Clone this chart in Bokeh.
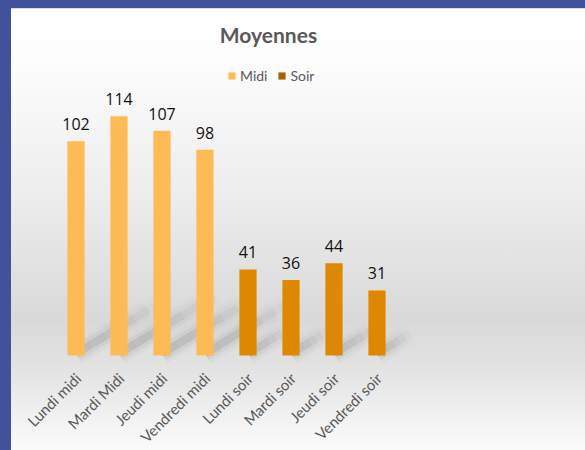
import math
from bokeh.plotting import figure
from bokeh.models import (ColumnDataSource, LabelSet, Label, Legend, LegendItem, Range1d)
from bokeh.core.properties import value
from bokeh.embed import file_html
from bokeh.resources import INLINE

# ---- data ----
categories = ["Lundi midi", "Mardi Midi", "Jeudi midi", "Vendredi midi",
              "Lundi soir", "Mardi soir", "Jeudi soir", "Vendredi soir"]
midi_cats = ["Lundi midi", "Mardi Midi", "Jeudi midi", "Vendredi midi"]
midi_vals = [102, 114, 107, 98]
soir_cats = ["Lundi soir", "Mardi soir", "Jeudi soir", "Vendredi soir"]
soir_vals = [41, 36, 44, 31]
series = ["Midi", "Soir"]
title_text = "Moyennes"

# ---- styles ----
MIDI_COLOR = "#FDBB55"
SOIR_COLOR = "#DD8800"
SOIR_LEGEND = "#A66500"
GREY = "#595959"

W, H = 585, 450
PLOT_L, PLOT_R = 54, 398   # page x span of the category slots
BL, BT = 11, 17
BR = 0
BASE = 355                 # page y of the bar baseline
YMAX = 161
n = len(categories)
px_per_cat = (PLOT_R - PLOT_L) / n
px_per_unit = (BASE - BT) / YMAX
YMIN = -(H - BASE) / px_per_unit
XMIN = -0.5 - (PLOT_L - BL) / px_per_cat
XMAX = n - 0.5 + (W - BR - PLOT_R) / px_per_cat

p = figure(x_range=Range1d(XMIN, XMAX), y_range=Range1d(YMIN, YMAX),
           width=W, height=H, output_backend="svg", toolbar_location=None,
           min_border_left=BL, min_border_right=BR, min_border_top=BT, min_border_bottom=0)
p.border_fill_alpha = 0
p.background_fill_alpha = 0
p.outline_line_color = None
p.grid.visible = False
p.axis.visible = False

idx = {c: i for i, c in enumerate(categories)}
midi_x = [idx[c] for c in midi_cats]
soir_x = [idx[c] for c in soir_cats]

# ---- soft diagonal shadows, derived from each bar's value ----
pieces = 6
alphas = [0.15, 0.14, 0.12, 0.09, 0.06, 0.03]
for layer_w, layer_a in ((22, 0.25), (15, 0.45), (8, 0.9)):
    xs0, ys0, xs1, ys1, al = [], [], [], [], []
    for x0, v in zip(midi_x + soir_x, midi_vals + soir_vals):
        dx_px = 0.75 * v + 10
        dy_px = dx_px * 0.6
        for k in range(pieces):
            f0, f1 = k / pieces, (k + 1) / pieces
            xs0.append(x0 + f0 * dx_px / px_per_cat)
            xs1.append(x0 + f1 * dx_px / px_per_cat)
            ys0.append((f0 * dy_px + 2) / px_per_unit)
            ys1.append((f1 * dy_px + 2) / px_per_unit)
            al.append(alphas[k] * layer_a)
    p.segment(x0=xs0, y0=ys0, x1=xs1, y1=ys1,
              line_color="#4a4a4a", line_alpha=al, line_width=layer_w, line_cap="butt")

src_midi = ColumnDataSource(dict(x=midi_x, val=midi_vals, txt=[str(v) for v in midi_vals]))
src_soir = ColumnDataSource(dict(x=soir_x, val=soir_vals, txt=[str(v) for v in soir_vals]))

p.vbar(x="x", top="val", bottom=0, width=0.4, source=src_midi, fill_color=MIDI_COLOR, line_color=None)
p.vbar(x="x", top="val", bottom=0, width=0.4, source=src_soir, fill_color=SOIR_COLOR, line_color=None)

for src in (src_midi, src_soir):
    p.add_layout(LabelSet(x="x", y="val", text="txt", source=src, y_offset=11,
                          text_align="center", text_baseline="alphabetic",
                          text_font=value("Open Sans"), text_font_size=value("16px"),
                          text_color="#111111"))

# category labels (rotated 45°), drawn under each bar
cat_src = ColumnDataSource(dict(x=list(range(n)), y=[0] * n, txt=categories))
p.add_layout(LabelSet(x="x", y="y", text="txt", source=cat_src, angle=math.pi / 4,
                      x_offset=2, y_offset=-20, text_align="right", text_baseline="middle",
                      text_font=value("Lato"), text_font_size=value("15px"),
                      text_color=GREY))

# legend proxies
d_midi = p.vbar(x="x", top="val", width=0.4, source=src_midi, fill_color=MIDI_COLOR, line_color=None, visible=False)
d_soir = p.vbar(x="x", top="val", width=0.4, source=src_soir, fill_color=SOIR_LEGEND, line_color=None, visible=False)
legend = Legend(items=[LegendItem(label=series[0], renderers=[d_midi]),
                       LegendItem(label=series[1], renderers=[d_soir])],
                orientation="horizontal", location=(227 - BL, H - 83.5),
                glyph_width=9, glyph_height=9, label_standoff=4, spacing=10,
                padding=0, margin=0, border_line_color=None, background_fill_alpha=0,
                label_text_font="Lato", label_text_font_size="14px", label_text_color=GREY)
p.add_layout(legend)

p.add_layout(Label(x=268 - BL, y=H - 34, x_units="screen", y_units="screen", text=title_text,
                   text_align="center", text_baseline="middle", text_font="Lato",
                   text_font_style="bold", text_font_size="21px", text_color=GREY))

html = file_html(p, INLINE)
css = ("<style>html,body{margin:0;padding:0;}body{overflow:hidden;background:"
       "linear-gradient(to right,#42529A 0,#42529A 11px,transparent 11px),"
       "linear-gradient(to bottom,#42529A 0,#42529A 8px,#dcdcdc 8px,#dcdcdc 9px,#ffffff 9px,"
       "#fdfdfd 60px,#ececec 200px,#d9d9d9 320px,#e3e3e3 370px,#fbfbfb 450px);}</style>")
html = html.replace("</head>", css + "</head>", 1)
open("out.html", "w").write(html)
